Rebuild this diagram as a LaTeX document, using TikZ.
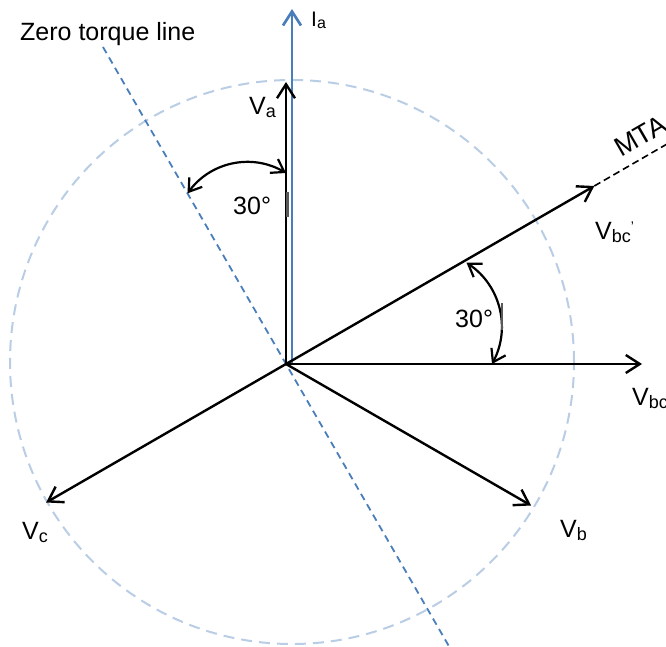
\documentclass[tikz,border=0pt]{standalone}
\usepackage{fontspec}
\setmainfont{Liberation Sans}
\usetikzlibrary{arrows.meta,calc}
\definecolor{iblue}{HTML}{4A7EBB}
\definecolor{cblue}{HTML}{B9CDE5}
\newcommand\lbl{\fontsize{25}{30}\selectfont}
\newcommand\sbs[1]{\raisebox{-3pt}{\fontsize{18}{18}\selectfont #1}}
\begin{document}
\begin{tikzpicture}[x=1pt,y=1pt,
  vec/.style={line width=2.4pt,-{Straight Barb[length=14pt,width=18pt]}},
  angarc/.style={line width=2.2pt,{Straight Barb[length=12pt,width=16pt]}-{Straight Barb[length=12pt,width=16pt]}},
  txt/.style={inner sep=0pt,anchor=base west,font=\lbl}]
\useasboundingbox (0,0) rectangle (666,647);
\clip (0,0) rectangle (666,647);
\coordinate (O) at (286,283);
\coordinate (C) at (292,285);
% reference circle
\draw[cblue,line width=2pt,dash pattern=on 11pt off 7pt] (C) circle[radius=282];
% zero torque line
\coordinate (z1) at ($(O)+(120:366)$);
\coordinate (z2) at ($(O)+(-60:380)$);
\draw[iblue,line width=1.8pt,dash pattern=on 7pt off 5pt] (z1) -- (z2);
% vectors
\coordinate (Ia0) at (292,283);
\coordinate (Ia) at (292,638);
\draw[iblue,vec,line width=2.7pt] (Ia0) -- (Ia);
\coordinate (Va) at ($(O)+(90:282)$);
\coordinate (Vbcp) at ($(O)+(30:356)$);
\coordinate (MTAe) at ($(O)+(30:460)$);
\coordinate (Vbc) at ($(O)+(0:356)$);
\coordinate (Vb) at ($(O)+(-30:283)$);
\coordinate (Vc) at ($(O)+(210:277)$);
\draw[vec] (O) -- (Va);
\draw[vec] (O) -- (Vbcp);
\draw[vec] (O) -- (Vbc);
\draw[vec] (O) -- (Vb);
\draw[vec] (O) -- (Vc);
\draw[line width=1.6pt,dash pattern=on 7pt off 4pt] (Vbcp) -- (MTAe);
% angle arcs
\coordinate (a1) at ($(O)+(90:191)$);
\coordinate (a2) at ($(O)+(120:197)$);
\draw[angarc] (a2) to[bend left=42] (a1);
\coordinate (b1) at ($(O)+(29.3:207)$);
\coordinate (b2) at ($(O)+(0:206)$);
\draw[angarc] (b1) to[bend left=42] (b2);
% small gray marks
\coordinate (g1) at (287.5,430);
\coordinate (g2) at (287.5,455);
\draw[gray!70!black,line width=3pt] (g1) -- (g2);
\coordinate (g3) at (502,317);
\coordinate (g4) at (502,344);
\draw[gray!70!black,line width=2.5pt] (g3) -- (g4);
% labels
\node[txt] (tz) at (20,606) {Zero torque line};
\node[txt,font=\fontsize{21}{24}\selectfont] (tIa) at (311,620) {I\raisebox{-2pt}{\fontsize{16}{16}\selectfont a}};
\node[txt] (tVa) at (249,532) {V\sbs{a}};
\node[txt] (t30a) at (233,432) {30°};
\node[txt] (t30b) at (455,319) {30°};
\node[txt] (tVbcp) at (595,407) {V\sbs{bc}\raisebox{8pt}{\fontsize{14}{14}\selectfont ’}};
\node[txt] (tVbc) at (632,241) {V\sbs{bc}};
\node[txt] (tVb) at (560,109) {V\sbs{b}};
\node[txt] (tVc) at (22,107) {V\sbs{c}};
\node[txt,rotate=30,font=\fontsize{27}{30}\selectfont] (tMTA) at (621,489) {MTA};
\end{tikzpicture}
\end{document}
